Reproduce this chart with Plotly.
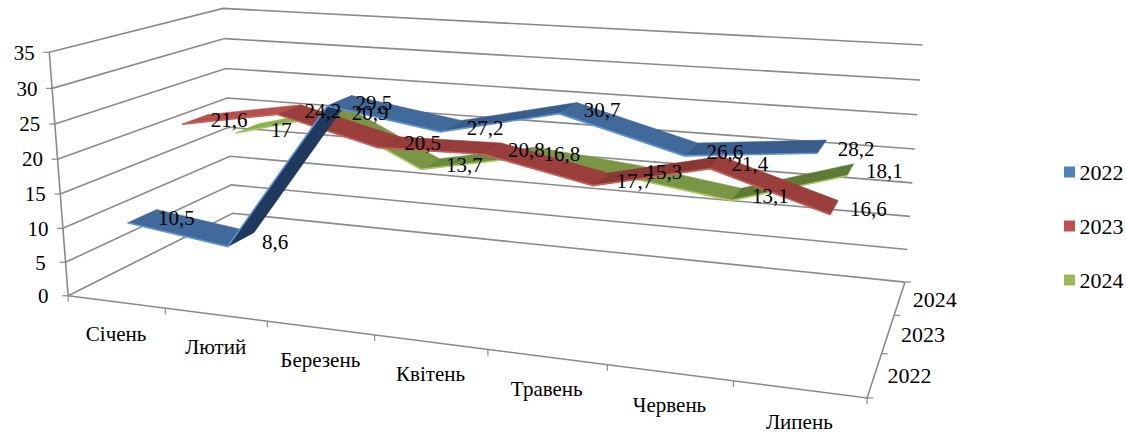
import numpy as np
import plotly.graph_objects as go

months = ["Січень", "Лютий", "Березень", "Квітень", "Травень", "Червень", "Липень"]
years = ["2022", "2023", "2024"]
v2022 = [10.5, 8.6, 29.5, 27.2, 30.7, 26.6, 28.2]
v2023 = [21.6, 24.2, 20.5, 20.8, 17.7, 21.4, 16.6]
v2024 = [17, 20.9, 13.7, 16.8, 15.3, 13.1, 18.1]
value_ticks = [0, 5, 10, 15, 20, 25, 30, 35]
series = [v2022, v2023, v2024]

VMAX = 35.0
FONT = "Liberation Serif"
GRID = "#8a8a8a"
LEGEND_COL = ["#4F81BD", "#C0504D", "#9BBB59"]
EDGE_COL = ["#5f95d6", "#c9605c", "#a9c964"]
SEG_COL = [
    ["#41699a", "#1f3a5c", "#41699a", "#3a5e8c", "#41699a", "#3a5e8c"],
    ["#b5504d", "#9a3f3c", "#963c3a", "#9a3f3c", "#8a3835", "#9a3f3c"],
    ["#8fb04b", "#7a9544", "#6c8a3c", "#7a9544", "#7a9544", "#5f7a35"],
]
HALF = 0.08
LABEL_DX = [34, 34, 34]
LABEL_DY = [4, 3, 3]

# projection of the chart box: (category 0-1, depth 0-1, value 0-1) -> pixels
CAL = [((0,0,0),(68,296)), ((0,0,1),(49.5,52)), ((0,1,0),(233,213)), ((0,1,1),(222.7,8.7)),
       ((1,1,0),(905,282)), ((1,1,1),(922.7,45)), ((1,0,0),(867,398))]
world = np.array([list(c[0]) + [1.0] for c in CAL])
pix = np.array([c[1] for c in CAL], float)

def reproj(vec):
    M = vec.reshape(3, 4)
    h = world @ M.T
    return (h[:, :2] / h[:, 2:]).ravel()

rows = []
for (a, b, c), (px, py) in zip([c[0] for c in CAL], (pix - 500) / 500):
    rows.append([a, b, c, 1, 0, 0, 0, 0, -px*a, -px*b, -px*c, -px])
    rows.append([0, 0, 0, 0, a, b, c, 1, -py*a, -py*b, -py*c, -py])
M = np.linalg.svd(np.array(rows, float))[2][-1].reshape(3, 4)
T = np.array([[500, 0, 500], [0, 500, 500], [0, 0, 1.0]])
vec = (T @ M).ravel()
vec = vec / np.linalg.norm(vec)
target = pix.ravel()
for _ in range(40):  # Gauss-Newton refinement on pixel error
    r = reproj(vec) - target
    J = np.zeros((len(r), 12))
    for k in range(12):
        dv = vec.copy(); dv[k] += 1e-7
        J[:, k] = (reproj(dv) - reproj(vec)) / 1e-7
    vec = vec - np.linalg.lstsq(J, r, rcond=1e-10)[0]
P = vec.reshape(3, 4)

def proj(u, w, v):
    x, y, z = P @ np.array([u, w, v, 1.0])
    return x / z, y / z

def val(i, w, value):
    return proj((i + 0.5) / len(months), w, value / VMAX)

fig = go.Figure()

def line(points, width=1.6, color=GRID):
    xs, ys = zip(*points)
    fig.add_trace(go.Scatter(x=xs, y=ys, mode="lines", line=dict(color=color, width=width),
                             showlegend=False, hoverinfo="skip"))

# walls and floor
for t in value_ticks:
    f = t / VMAX
    line([proj(0, 0, f), proj(0, 1, f), proj(1, 1, f)])
    x, y = proj(0, 0, f)
    line([(x - 6, y), (x, y)], 1.2)
line([proj(0, 0, 0), proj(0, 0, 1)])
line([proj(0, 0, 0), proj(1, 0, 0), proj(1, 1, 0)])
for i in range(len(months) + 1):
    x, y = proj(i / len(months), 0, 0)
    line([(x, y), (x, y + 6)], 1.2)
for i in range(len(years) + 1):
    x, y = proj(1, i / len(years), 0)
    line([(x, y), (x + 6, y)], 1.2)

# ribbons, back to front
for s in reversed(range(len(years))):
    wc = (s + 0.5) / len(years)
    vals = series[s]
    for i in range(len(vals) - 1):
        a = val(i, wc - HALF, vals[i]); b = val(i + 1, wc - HALF, vals[i + 1])
        c = val(i + 1, wc + HALF, vals[i + 1]); d = val(i, wc + HALF, vals[i])
        fig.add_trace(go.Scatter(x=[a[0], b[0], c[0], d[0], a[0]], y=[a[1], b[1], c[1], d[1], a[1]],
                                 mode="lines", fill="toself", fillcolor=SEG_COL[s][i],
                                 line=dict(width=0.5, color=SEG_COL[s][i]),
                                 showlegend=False, hoverinfo="skip"))
    front = [val(i, wc - HALF, vals[i]) for i in range(len(vals))]
    line(front, 1.6, EDGE_COL[s])

def texts(xs, ys, labels, size=21):
    fig.add_trace(go.Scatter(x=xs, y=ys, mode="text", text=labels, textposition="middle center",
                             textfont=dict(family=FONT, size=size, color="#000000"),
                             showlegend=False, hoverinfo="skip"))

# data labels
for s in range(len(years)):
    wc = (s + 0.5) / len(years)
    pts = [val(i, wc, v) for i, v in enumerate(series[s])]
    texts([p[0] + LABEL_DX[s] for p in pts], [p[1] + LABEL_DY[s] for p in pts],
          [str(v).replace(".", ",") for v in series[s]])

# axis labels
pts = [proj(0, 0, t / VMAX) for t in value_ticks]
texts([p[0] - 25 for p in pts], [p[1] + 2 for p in pts], [str(t) for t in value_ticks])
pts = [proj((i + 0.5) / len(months), 0, 0) for i in range(len(months))]
texts([p[0] for p in pts], [p[1] + 34 for p in pts], months)
pts = [proj(1, (i + 0.5) / len(years), 0) for i in range(len(years))]
texts([p[0] + 35 for p in pts], [p[1] + 3 for p in pts], years, 22)

# colour key
KEY_X = 1069.5
KEY_Y = [172, 226, 280]
for y, c, ky in zip(years, LEGEND_COL, KEY_Y):
    fig.add_trace(go.Scatter(x=[KEY_X], y=[ky], mode="markers", name=y,
                             marker=dict(symbol="square", size=11, color=c),
                             showlegend=False, hoverinfo="skip"))
    fig.add_trace(go.Scatter(x=[KEY_X + 10], y=[ky + 2], mode="text", text=[y],
                             textposition="middle right",
                             textfont=dict(family=FONT, size=22, color="#000000"),
                             showlegend=False, hoverinfo="skip"))

fig.update_layout(
    width=1126, height=434, autosize=False, margin=dict(l=0, r=0, t=0, b=0),
    paper_bgcolor="white", plot_bgcolor="white", showlegend=False,
    xaxis=dict(range=[0, 1126], visible=False, fixedrange=True),
    yaxis=dict(range=[434, 0], visible=False, fixedrange=True),
)
fig.write_html("out.html", post_script="document.body.style.margin='0';",
               config=dict(displayModeBar=False, responsive=False))
